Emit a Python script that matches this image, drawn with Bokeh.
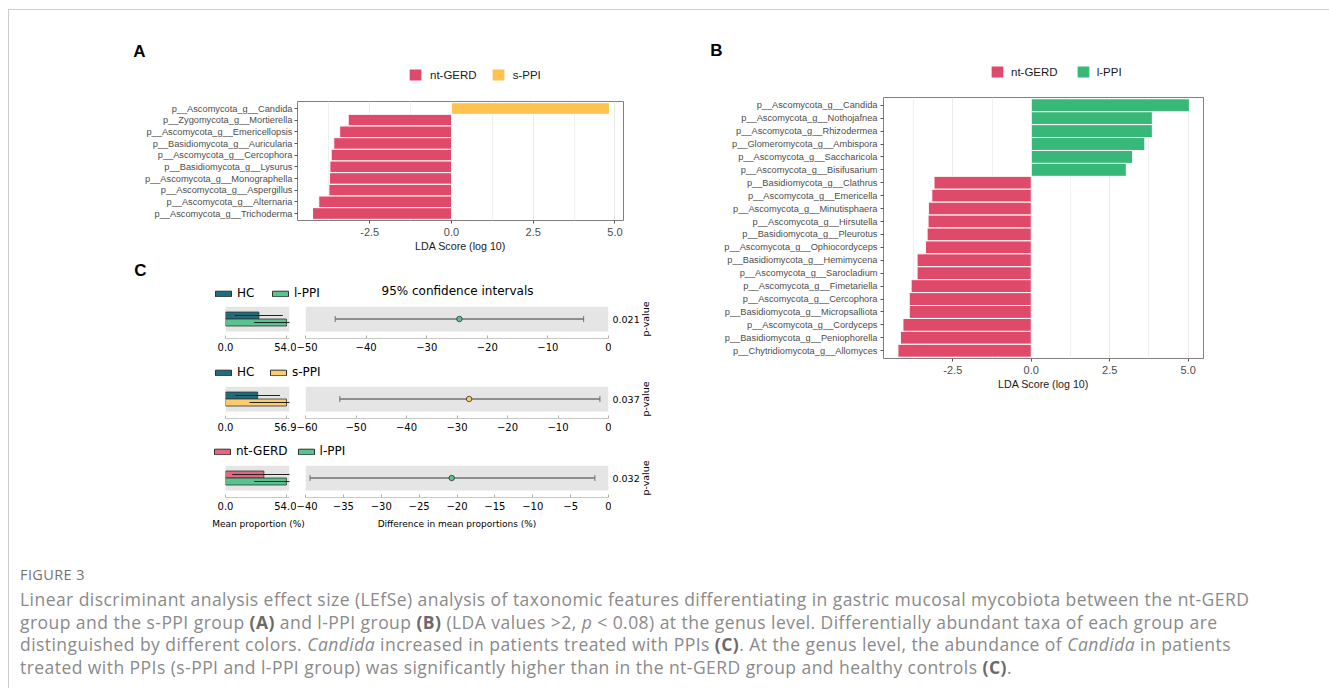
import math
from bokeh.plotting import figure
from bokeh.models import (Range1d, FactorRange, FixedTicker, Legend, LegendItem, Label,
                          BoxAnnotation, Spacer, Div, NumeralTickFormatter,
                          CustomJSTickFormatter, ColumnDataSource)
from bokeh.layouts import row, column
from bokeh.embed import file_html
from bokeh.resources import INLINE

# ---------------------------------------------------------------- data
a_taxa = ["p__Ascomycota_g__Candida", "p__Zygomycota_g__Mortierella",
          "p__Ascomycota_g__Emericellopsis", "p__Basidiomycota_g__Auricularia",
          "p__Ascomycota_g__Cercophora", "p__Basidiomycota_g__Lysurus",
          "p__Ascomycota_g__Monographella", "p__Ascomycota_g__Aspergillus",
          "p__Ascomycota_g__Alternaria", "p__Ascomycota_g__Trichoderma"]
a_lda = [4.83, -3.16, -3.42, -3.60, -3.68, -3.72, -3.73, -3.75, -4.06, -4.25]
a_group = ["s-PPI"] + ["nt-GERD"] * 9
a_legend = ["nt-GERD", "s-PPI"]

b_taxa = ["p__Ascomycota_g__Candida", "p__Ascomycota_g__Nothojafnea",
          "p__Ascomycota_g__Rhizodermea", "p__Glomeromycota_g__Ambispora",
          "p__Ascomycota_g__Saccharicola", "p__Ascomycota_g__Bisifusarium",
          "p__Basidiomycota_g__Clathrus", "p__Ascomycota_g__Emericella",
          "p__Ascomycota_g__Minutisphaera", "p__Ascomycota_g__Hirsutella",
          "p__Basidiomycota_g__Pleurotus", "p__Ascomycota_g__Ophiocordyceps",
          "p__Basidiomycota_g__Hemimycena", "p__Ascomycota_g__Sarocladium",
          "p__Ascomycota_g__Fimetariella", "p__Ascomycota_g__Cercophora",
          "p__Basidiomycota_g__Micropsalliota", "p__Ascomycota_g__Cordyceps",
          "p__Basidiomycota_g__Peniophorella", "p__Chytridiomycota_g__Allomyces"]
b_lda = [5.04, 3.86, 3.86, 3.62, 3.23, 3.03,
         -3.10, -3.17, -3.28, -3.29, -3.32, -3.37, -3.64, -3.64,
         -3.83, -3.89, -3.89, -4.09, -4.17, -4.25]
b_group = ["l-PPI"] * 6 + ["nt-GERD"] * 14
b_legend = ["nt-GERD", "l-PPI"]

lda_ticks = [-2.5, 0.0, 2.5, 5.0]
lda_minor = [-3.75, -1.25, 1.25, 3.75]

# panel C (extended error bar plots)
c_group1 = ["HC", "HC", "nt-GERD"]
c_group2 = ["l-PPI", "s-PPI", "l-PPI"]
c_mean1 = [29.6, 30.0, 34.0]
c_sd1 = [21.2, 20.9, 28.0]
c_mean2 = [54.0, 56.9, 54.0]
c_sd2 = [28.7, 34.5, 28.5]
c_diff = [-24.6, -27.6, -20.7]
c_ci_low = [-45.1, -53.2, -39.4]
c_ci_high = [-4.1, -1.7, -1.8]
c_pvalue = ["0.021", "0.037", "0.032"]
c_ci_ticks = [[-50, -40, -30, -20, -10, 0],
              [-60, -50, -40, -30, -20, -10, 0],
              [-40, -35, -30, -25, -20, -15, -10, -5, 0]]

# ---------------------------------------------------------------- styles
LDA_COLORS = {"nt-GERD": "#E04A6A", "s-PPI": "#FFC24D", "l-PPI": "#37B879"}
C_COLORS = {"HC": "#1F6D7C", "l-PPI": "#57C38D", "s-PPI": "#FFCB6B", "nt-GERD": "#E5677F"}
SANS = "Liberation Sans"
MPL = "DejaVu Sans"
BORDER = "#cccccc"
LETTER_SIZE = "17px"


def canvas_fig(w, h):
    """A figure whose frame is its whole canvas, with data units = pixels."""
    f = figure(width=w, height=h, x_range=Range1d(0, w), y_range=Range1d(0, h),
               output_backend="svg", toolbar_location=None, min_border=0,
               x_axis_location=None, y_axis_location=None, frame_align=False)
    f.grid.visible = False
    f.outline_line_color = None
    return f


def key_renderer(f, color, line_color, line_width):
    # legend key only: its single bar lies outside the visible range
    return f.hbar(y=[-1000], left=0, right=[1], height=1, fill_color=color,
                  line_color=line_color, line_width=line_width)


def header_strip(w, h, groups, legend_x, legend_cy, spacing, standoff, letter, letter_xy):
    f = canvas_fig(w, h)
    items = [LegendItem(label=g, renderers=[key_renderer(f, LDA_COLORS[g], "white", 1)])
             for g in groups]
    f.add_layout(Legend(items=items, orientation="horizontal",
                        location=(legend_x, legend_cy - 10), glyph_width=16, glyph_height=15,
                        label_standoff=standoff, spacing=spacing, padding=0, margin=0,
                        border_line_color=None, background_fill_alpha=0,
                        label_text_font=SANS, label_text_font_size="11.5px",
                        label_text_color="#1a1a1a"))
    f.add_layout(Label(x=letter_xy[0], y=letter_xy[1], text=letter, text_align="center",
                       text_baseline="middle", text_font=SANS, text_font_style="bold",
                       text_font_size=LETTER_SIZE, text_color="black"))
    return f


def lda_panel(taxa, lda, groups, legend_order, canvas, frame, xr, ylab_standoff):
    cx0, cy0, cx1, cy1 = canvas
    fx0, fy0, fx1, fy1 = frame
    p = figure(width=cx1 - cx0, height=cy1 - cy0, x_range=Range1d(*xr),
               y_range=FactorRange(factors=list(reversed(taxa)), range_padding=0.1,
                                   range_padding_units="absolute"),
               output_backend="svg", toolbar_location=None, frame_align=False,
               min_border_left=fx0 - cx0, min_border_right=cx1 - fx1,
               min_border_top=fy0 - cy0, min_border_bottom=cy1 - fy1)
    for g in legend_order:
        idx = [i for i, gg in enumerate(groups) if gg == g]
        src = ColumnDataSource(dict(taxon=[taxa[i] for i in idx], lda=[lda[i] for i in idx]))
        p.hbar(y="taxon", left=0, right="lda", height=1, source=src,
               fill_color=LDA_COLORS[g], line_color="white", line_width=1)

    p.xaxis.ticker = FixedTicker(ticks=lda_ticks, minor_ticks=lda_minor)
    p.xaxis.formatter = NumeralTickFormatter(format="0.0")
    p.xaxis.axis_label = "LDA Score (log 10)"
    p.xaxis.axis_label_text_font = SANS
    p.xaxis.axis_label_text_font_size = "10.7px"
    p.xaxis.axis_label_text_font_style = "normal"
    p.xaxis.axis_label_text_color = "#1a1a1a"
    p.xaxis.axis_label_standoff = 1
    p.xaxis.major_label_text_font = SANS
    p.xaxis.major_label_text_font_size = "11px"
    p.xaxis.major_label_text_color = "#4d4d4d"
    p.xaxis.major_label_standoff = 3
    p.axis.axis_line_color = None
    p.axis.major_tick_in = 0
    p.axis.major_tick_out = 3
    p.axis.major_tick_line_color = "#555555"
    p.axis.minor_tick_line_color = None
    p.yaxis.major_label_text_font = SANS
    p.yaxis.major_label_text_font_size = "9.25px"
    p.yaxis.major_label_text_color = "#4d4d4d"
    p.yaxis.major_label_standoff = ylab_standoff
    p.xgrid.grid_line_color = "#ebebeb"
    p.xgrid.minor_grid_line_color = "#f0f0f0"
    p.ygrid.visible = False
    p.outline_line_color = "#808080"
    p.outline_line_width = 1
    return p


# -------------------------------------------------------------- panel A / B
stripA = header_strip(671, 80, a_legend, 398, 18, 13, 7, "A", (130, 39))
figA = lda_panel(a_taxa, a_lda, a_group, a_legend,
                 canvas=(9, 90, 680, 258), frame=(297, 101, 623, 220),
                 xr=(-4.71, 5.26), ylab_standoff=2)
stripB = header_strip(649, 75, b_legend, 309, 16, 17, 6, "B", (36, 35))
figB = lda_panel(b_taxa, b_lda, b_group, b_legend,
                 canvas=(680, 85, 1329, 400), frame=(883, 97, 1203, 358),
                 xr=(-4.71, 5.49), ylab_standoff=3)

# ---------------------------------------------------------------- panel C
LEFT_W = 287      # canvas x 9..296
CI_W = 315        # canvas x 296..611
PV_W = 69         # canvas x 611..680
L_FL, L_FR = 216, 7
CI_FL, CI_FR = 9, 3
FT, FRAME_H, ROW_H = 6, 32, 58
BAR_PX, BG_H = 7, 25
Y_TOP = 0.5 + (BG_H / 2) / BAR_PX
Y_BOT = Y_TOP - FRAME_H / BAR_PX
BG_BOT = 0.5 - (BG_H / 2) / BAR_PX
STRIP_W = 671


def c_strip(height, g1, g2, legend_x, legend_bottom, spacing, letter=None, title=None):
    f = canvas_fig(STRIP_W, height)
    items = [LegendItem(label=g, renderers=[key_renderer(f, C_COLORS[g], "#333333", 1)])
             for g in (g1, g2)]
    f.add_layout(Legend(items=items, orientation="horizontal",
                        location=(legend_x, legend_bottom), glyph_width=20, glyph_height=7,
                        label_standoff=4, spacing=spacing, padding=0, margin=0,
                        border_line_color=None, background_fill_alpha=0,
                        label_text_font=MPL, label_text_font_size="12px",
                        label_text_color="black"))
    if letter:
        f.add_layout(Label(x=letter[1], y=letter[2], text=letter[0], text_align="center",
                           text_baseline="middle", text_font=SANS, text_font_style="bold",
                           text_font_size=LETTER_SIZE, text_color="black"))
    if title:
        f.add_layout(Label(x=title[1], y=title[2], text=title[0], text_align="center",
                           text_baseline="middle", text_font=MPL, text_font_size="12px",
                           text_color="black"))
    return f


def style_c_axis(ax):
    ax.major_label_text_font = MPL
    ax.major_label_text_font_size = "10px"
    ax.major_label_text_color = "black"
    ax.major_label_standoff = 4
    ax.axis_line_color = "#c8c8c8"
    ax.major_tick_line_color = "#b0b0b0"
    ax.major_tick_in = 3
    ax.major_tick_out = 0
    ax.minor_tick_line_color = None


def c_row(i):
    fb = ROW_H - FT - FRAME_H
    g1, g2 = c_group1[i], c_group2[i]
    m1, m2 = c_mean1[i], c_mean2[i]
    s1, s2 = c_sd1[i], c_sd2[i]
    max_mean = max(m1, m2)

    # mean proportion bars
    pl = figure(width=LEFT_W, height=ROW_H, x_range=Range1d(0, max_mean * 1.05),
                y_range=Range1d(Y_BOT, Y_TOP), output_backend="svg", toolbar_location=None,
                min_border_left=L_FL, min_border_right=L_FR, min_border_top=FT,
                min_border_bottom=fb, y_axis_location=None, frame_align=False)
    pl.add_layout(BoxAnnotation(bottom=BG_BOT, top=Y_TOP, fill_color="#e5e5e5",
                                fill_alpha=1, line_color=None, level="underlay"))
    src = ColumnDataSource(dict(y=[1, 0], m=[m1, m2], lo=[m1 - s1, m2 - s2],
                                hi=[m1 + s1, m2 + s2], c=[C_COLORS[g1], C_COLORS[g2]]))
    pl.hbar(y="y", left=0, right="m", height=1, fill_color="c", line_color="#333333",
            line_width=0.8, source=src)
    pl.segment(x0="lo", y0="y", x1="hi", y1="y", line_color="#222222", line_width=1,
               source=src)
    pl.xaxis.ticker = FixedTicker(ticks=[0, max_mean])
    pl.xaxis.formatter = NumeralTickFormatter(format="0.0")
    style_c_axis(pl.xaxis)
    pl.grid.visible = False
    pl.outline_line_color = None

    # confidence interval of the difference
    ticks = c_ci_ticks[i]
    xr = (ticks[0], ticks[-1])
    pc = figure(width=CI_W, height=ROW_H, x_range=Range1d(*xr),
                y_range=Range1d(Y_BOT, Y_TOP), output_backend="svg", toolbar_location=None,
                min_border_left=CI_FL, min_border_right=CI_FR, min_border_top=FT,
                min_border_bottom=fb, y_axis_location=None, frame_align=False)
    pc.add_layout(BoxAnnotation(bottom=BG_BOT, top=Y_TOP, fill_color="#e5e5e5",
                                fill_alpha=1, line_color=None, level="underlay"))
    cap = 3.0 / BAR_PX
    csrc = ColumnDataSource(dict(lo=[c_ci_low[i]], hi=[c_ci_high[i]], d=[c_diff[i]], y=[0.5],
                                 y0=[0.5 - cap], y1=[0.5 + cap]))
    pc.segment(x0="lo", y0="y", x1="hi", y1="y", line_color="#707070", line_width=1.3,
               source=csrc)
    pc.segment(x0="lo", y0="y0", x1="lo", y1="y1", line_color="#707070", line_width=1,
               source=csrc)
    pc.segment(x0="hi", y0="y0", x1="hi", y1="y1", line_color="#707070", line_width=1,
               source=csrc)
    pc.scatter(x="d", y="y", size=5.5, fill_color=C_COLORS[g2], line_color="#333333",
               line_width=0.8, source=csrc)
    pc.xaxis.ticker = FixedTicker(ticks=ticks)
    pc.xaxis.formatter = CustomJSTickFormatter(
        code="return tick < 0 ? '\u2212' + Math.abs(tick) : String(tick);")
    style_c_axis(pc.xaxis)
    pc.grid.visible = False
    pc.outline_line_color = None

    # p-value column (frame = whole canvas, pixel units)
    pv = canvas_fig(PV_W, ROW_H)
    mid = fb + FRAME_H - (Y_TOP - 0.5) * BAR_PX
    pv.add_layout(Label(x=1, y=mid, text=c_pvalue[i], text_align="left",
                        text_baseline="middle", text_font=MPL, text_font_size="9.5px",
                        text_color="black"))
    pv.add_layout(Label(x=34, y=mid, text="p-value", text_align="center",
                        text_baseline="middle", angle=math.pi / 2, text_font=MPL,
                        text_font_size="9.5px", text_color="black"))
    return row(pl, pc, pv)


strip1 = c_strip(42, "HC", "l-PPI", 204, 0, 13, letter=("C", 131, 30),
                 title=("95% confidence intervals", 448, 10))
row1 = c_row(0)
strip2 = c_strip(22, "HC", "s-PPI", 204, 1, 11)
row2 = c_row(1)
strip3 = c_strip(21, "nt-GERD", "l-PPI", 203, 1, 8)
row3 = c_row(2)
bottom = canvas_fig(STRIP_W, 18)
for txt, xc in (("Mean proportion (%)", 249), ("Difference in mean proportions (%)", 447.5)):
    bottom.add_layout(Label(x=xc, y=12, text=txt, text_align="center", text_baseline="middle",
                            text_font=MPL, text_font_size="9px", text_color="black"))

left_col = column(stripA, figA, strip1, row1, strip2, row2, strip3, row3, bottom)
right_col = column(stripB, figB, Spacer(width=649, height=135))
upper = row(left_col, right_col)

caption_html = (
    "<div style=\"font-family:'Open Sans',sans-serif;color:#8a8a8a;padding:31px 0 0 11px;\">"
    "<div style=\"font-size:14.5px;line-height:18px;color:#737373;letter-spacing:0.4px;\">FIGURE 3</div>"
    "<div style=\"font-size:17.5px;line-height:22.5px;margin-top:4px;white-space:nowrap;"
    "letter-spacing:0.45px;\">"
    "Linear discriminant analysis effect size (LEfSe) analysis of taxonomic features "
    "differentiating in gastric mucosal mycobiota between the nt-GERD<br>"
    "group and the s-PPI group <b style=\"color:#6a6a6a\">(A)</b> and l-PPI group "
    "<b style=\"color:#6a6a6a\">(B)</b> (LDA values &gt;2, <i>p</i> &lt; 0.08) at the genus level. "
    "Differentially abundant taxa of each group are<br>"
    "distinguished by different colors. <i>Candida</i> increased in patients treated with PPIs "
    "<b style=\"color:#6a6a6a\">(C)</b>. At the genus level, the abundance of <i>Candida</i> in patients<br>"
    "treated with PPIs (s-PPI and l-PPI group) was significantly higher than in the nt-GERD "
    "group and healthy controls <b style=\"color:#6a6a6a\">(C)</b>."
    "</div></div>")
caption = Div(text=caption_html, width=1320, height=153, margin=0)

content = column(upper, caption)
top_line = Spacer(width=1321, height=1, styles={"background-color": BORDER})
left_line = Spacer(width=1, height=678, styles={"background-color": BORDER})
p = row(Spacer(width=8, height=688),
        column(Spacer(width=1321, height=9), top_line, row(left_line, content)))

open("out.html", "w").write(file_html(p, INLINE))
